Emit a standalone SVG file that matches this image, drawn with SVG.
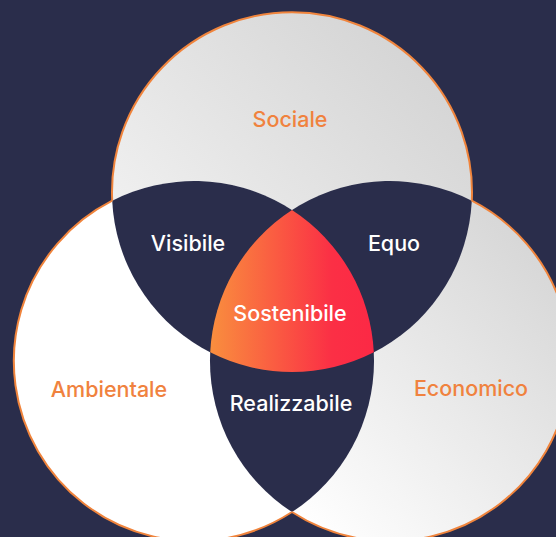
<svg xmlns="http://www.w3.org/2000/svg" width="556" height="537" viewBox="0 0 556 537">
  <defs>
    <linearGradient id="gTop" x1="0" y1="1" x2="1" y2="0">
      <stop offset="0" stop-color="#fafafa"/>
      <stop offset="1" stop-color="#cfcfcf"/>
    </linearGradient>
    <linearGradient id="gRight" x1="0" y1="1" x2="1" y2="0">
      <stop offset="0.15" stop-color="#ffffff"/>
      <stop offset="1" stop-color="#cfcfcf"/>
    </linearGradient>
    <linearGradient id="gCenter" gradientUnits="userSpaceOnUse" x1="212" y1="0" x2="372" y2="0">
      <stop offset="0" stop-color="#f98d3e"/>
      <stop offset="0.75" stop-color="#fb2f45"/>
      <stop offset="1" stop-color="#fc2945"/>
    </linearGradient>
    <style>
      .edge { fill: none; stroke: #f0843c; stroke-width: 2; }
      .lens { fill: #2a2d4b; stroke: none; }
      .lbl { font-family: Inter, "Liberation Sans", sans-serif; font-size: 21.5px; font-weight: 500; text-anchor: middle; }
      .outer { fill: #f0823e; }
      .inner { fill: #ffffff; }
    </style>
  </defs>
  <rect width="556" height="537" fill="#2a2d4b"/>
  <g id="sociale">
    <circle cx="292" cy="192" r="180" fill="url(#gTop)"/>
  </g>
  <g id="ambientale">
    <circle cx="194" cy="361" r="180" fill="#ffffff"/>
  </g>
  <g id="economico">
    <circle cx="390" cy="361" r="180" fill="url(#gRight)"/>
  </g>
  <g id="visibile">
    <path class="lens" d="M112.2,200.7 A180,180 0 0 1 373.8,352.3 A180,180 0 0 1 112.2,200.7 Z"/>
  </g>
  <g id="equo">
    <path class="lens" d="M210.2,352.3 A180,180 0 0 1 471.8,200.7 A180,180 0 0 1 210.2,352.3 Z"/>
  </g>
  <g id="realizzabile">
    <path class="lens" d="M292,210 A180,180 0 0 0 292,512 A180,180 0 0 0 292,210 Z"/>
  </g>
  <g id="sostenibile">
    <path fill="url(#gCenter)" d="M292,210 A180,180 0 0 1 373.8,352.3 A180,180 0 0 1 210.2,352.3 A180,180 0 0 1 292,210 Z"/>
  </g>
  <g id="outlines">
    <path class="edge" d="M112.2,200.7 A180,180 0 1 1 471.8,200.7"/>
    <path class="edge" d="M112.2,200.7 A180,180 0 1 0 292,512"/>
    <path class="edge" d="M471.8,200.7 A180,180 0 1 1 292,512"/>
  </g>
  <g id="labels">
    <text class="lbl outer" x="290" y="127">Sociale</text>
    <text class="lbl outer" x="109" y="397">Ambientale</text>
    <text class="lbl outer" x="471" y="396">Economico</text>
    <text class="lbl inner" x="188" y="251">Visibile</text>
    <text class="lbl inner" x="394" y="251">Equo</text>
    <text class="lbl inner" x="290" y="321">Sostenibile</text>
    <text class="lbl inner" x="291" y="411">Realizzabile</text>
  </g>
  <g id="connectors"/>
</svg>
